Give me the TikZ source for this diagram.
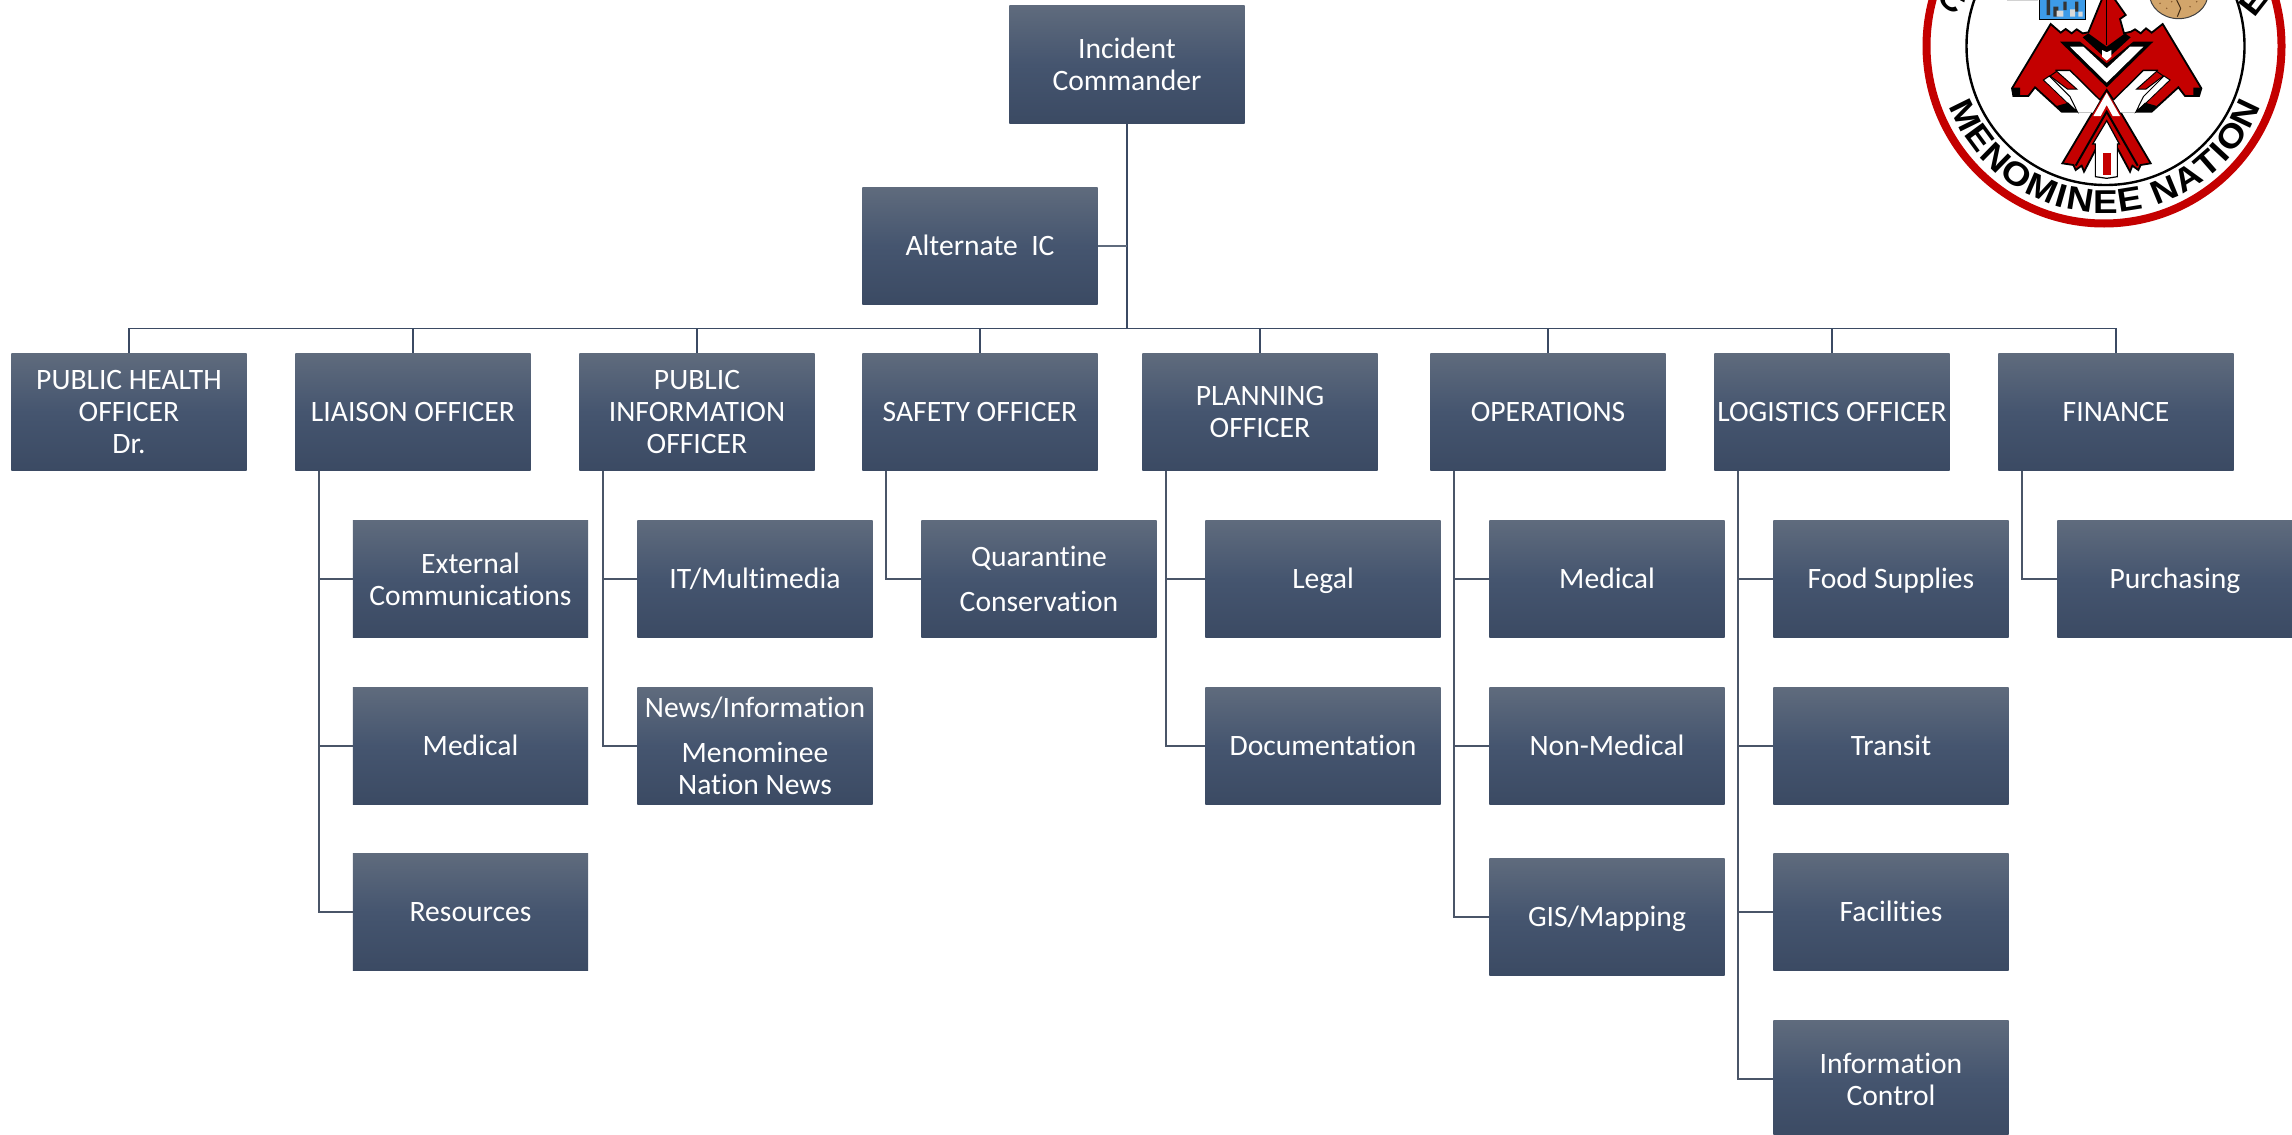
\documentclass[tikz,border=0pt]{standalone}
\usepackage{fontspec}
\setmainfont[Ligatures=NoCommon]{Carlito}
\newfontfamily\logofont[FakeStretch=1.12]{Liberation Sans}
\usetikzlibrary{decorations.text}
\definecolor{boxtop}{HTML}{5F6B7D}
\definecolor{boxmid}{HTML}{45556F}
\definecolor{boxbot}{HTML}{3B4A63}
\definecolor{linkc}{HTML}{4A5568}
\definecolor{logored}{HTML}{C40000}
\definecolor{nutc}{HTML}{D2A56B}
\definecolor{skyc}{HTML}{3D9BE8}
\tikzset{
 orgbox/.style={anchor=north west,minimum width=117.6pt,minimum height=58.7pt,inner sep=0pt,
   top color=boxtop,bottom color=boxbot,middle color=boxmid,text=white,align=center,
   font=\fontsize{14.8}{16}\selectfont},
 oneline/.style={orgbox,execute at begin node={\rule{0pt}{14.4pt}},execute at end node={\rule[-4.8pt]{0pt}{0pt}}},
 trunk/.style={draw=boxbot,line width=1pt},
 branch/.style={draw=linkc,line width=.7pt},
 redpart/.style={fill=logored,draw=black,line width=.9pt,line join=miter},
 whitepart/.style={fill=white,draw=black,line width=.6pt},
 gaplines/.style={black,line width=.7pt},
}
\begin{document}
\begin{tikzpicture}[x=.5pt,y=-.5pt]
\clip (0,0) rectangle (2292,1135);
\fill[white] (0,0) rectangle (2292,1135);
% logo rings
\draw[logored,line width=4pt] (2104,46) circle (177.5);
\draw[black,line width=1.2pt] (2105.5,46) circle (139);
\begin{scope}[shift={(1900,0)},x=.16667pt,y=-.16667pt]
 % blue picture
 \fill[gray!35] (320,-5) rectangle (415,2);
 \draw[black,line width=.8pt,fill=skyc] (419,-5) rectangle (557,59);
 \fill[black!80] (440,0) rectangle (450,45) (460,20) rectangle (475,50) (490,5) rectangle (500,30) (525,5) rectangle (535,35);
 \fill[white!85!black] (470,32) rectangle (490,50) (510,28) rectangle (525,50) (535,35) rectangle (548,50);
 % walnut
 \draw[fill=nutc,draw=black!75,line width=.5pt] (836,-20) ellipse (88 and 76);
 \draw[black!65!brown,line width=.5pt] (830,0) -- (842,25) -- (832,50);
 \fill[brown!70!black] (780,10) circle (2.5) (800,25) circle (2.5) (870,20) circle (2.5) (890,5) circle (2.5) (815,5) circle (2.5);
 % wings, head and body
 \path[redpart] (336,265) -- (452,72) -- (482,98) -- (497,87) -- (515,100) -- (530,88) -- (548,100) -- (565,97)
   -- (608,-8) -- (640,-8) -- (677,45) -- (660,57) -- (672,100) -- (693,95) -- (705,88) -- (722,100) -- (738,85)
   -- (755,98) -- (788,72) -- (904,265) -- (897,288) -- (855,288) -- (835,262) -- (755,335) -- (708,335)
   -- (640,335) -- (600,335) -- (532,335) -- (485,335) -- (405,262) -- (385,288) -- (340,288) -- cycle;
 % legs
 \path[redpart] (600,300) -- (487,490) -- (520,495) -- (527,510) -- (545,497) -- (552,515) -- (620,385)
   -- (690,515) -- (697,497) -- (715,510) -- (722,495) -- (752,490) -- (640,300) -- (620,270) -- cycle;
 \draw[black,line width=1pt] (527,497) -- (620,335) -- (713,497);
 % wing tips
 \fill[black] (336,263) -- (360,263) -- (360,288) -- (340,288) -- cycle;
 \fill[black] (904,263) -- (880,263) -- (880,288) -- (897,288) -- cycle;
 % neck line and chevrons
 \draw[black,line width=.7pt] (620,0) -- (620,135);
 \fill[black] (480,125) -- (540,125) -- (620,190) -- (700,125) -- (760,125) -- (620,262) -- cycle;
 \fill[white] (510,140) -- (550,140) -- (620,205) -- (690,140) -- (730,140) -- (620,248) -- cycle;
 \fill[black] (565,100) -- (620,140) -- (675,100) -- (692,112) -- (620,178) -- (548,112) -- cycle;
 \fill[white] (606,150) -- (620,157) -- (634,150) -- (634,170) -- (620,182) -- (606,170) -- cycle;
 % open gaps between feathers and legs
 \fill[white] (470,212) -- (510,212) -- (600,300) -- (578,338) -- (534,338) -- (470,270) -- (455,232) -- cycle;
 \fill[white] (1240-470,212) -- (1240-510,212) -- (1240-600,300) -- (1240-578,338) -- (1240-534,338) -- (1240-470,270) -- (1240-455,232) -- cycle;
 \draw[gaplines] (466,211) -- (510,211) -- (600,300);
 \draw[gaplines] (774,211) -- (730,211) -- (640,300);
 \path[redpart,line width=.5pt] (470,214) -- (530,267) -- (502,267) -- (450,228) -- cycle;
 \path[redpart,line width=.5pt] (770,214) -- (710,267) -- (738,267) -- (790,228) -- cycle;
 % feather slivers
 \path[whitepart,line width=.5pt] (430,240) -- (448,228) -- (510,290) -- (532,335) -- (505,312) -- cycle;
 \path[whitepart,line width=.5pt] (810,240) -- (792,228) -- (730,290) -- (708,335) -- (735,312) -- cycle;
 \path[fill=logored] (440,252) -- (500,310) -- (482,322) -- (420,262) -- cycle;
 \path[fill=logored] (800,252) -- (740,310) -- (758,322) -- (820,262) -- cycle;
 \fill[black] (470,318) -- (485,335) -- (532,335) -- (505,308) -- cycle;
 \fill[black] (770,318) -- (755,335) -- (708,335) -- (735,308) -- cycle;
 % center chevron
 \fill[white] (620,278) -- (660,348) -- (638,348) -- (620,315) -- (602,348) -- (580,348) -- cycle;
 % tail arrow
 \path[whitepart] (620,362) -- (658,432) -- (652,432) -- (652,530) -- (620,535) -- (586,530) -- (586,432) -- (578,432) -- cycle;
 \fill[logored] (608,458) rectangle (632,525);
 % clipped upper lettering
 \node[rotate=-40,font=\logofont\bfseries\fontsize{16}{16}\selectfont] (logoC) at (158,-2) {C};
 \node[rotate=52,font=\logofont\bfseries\fontsize{16}{16}\selectfont] (logoE) at (1058,6) {E};
\end{scope}
\begin{scope}[x=1pt,y=1pt]
 \path[decorate,decoration={text along path,text align={fit to path},
   text={|\logofont\bfseries\fontsize{16.5}{16.5}\selectfont|MENOMINEE NATION}}]
   (1052.5,-23) ++(201:83.5) arc[start angle=201,end angle=339,radius=83.5];
\end{scope}
% top
\node[orgbox] (ic) at (1009,5.5) {Incident\\Commander};
\node[oneline] (alt) at (862,187) {Alternate\ \ IC};
\coordinate (bus) at (1127,328.5);
% level 2
\node[orgbox] (ph) at (11,353) {PUBLIC HEALTH\\OFFICER\\Dr.};
\node[oneline] (lo) at (295,353) {LIAISON OFFICER};
\node[orgbox] (pi) at (579,353) {PUBLIC\\INFORMATION\\OFFICER};
\node[oneline] (so) at (862,353) {SAFETY OFFICER};
\node[orgbox] (pl) at (1142,353) {PLANNING\\OFFICER};
\node[oneline] (op) at (1430,353) {OPERATIONS};
\node[oneline] (lg) at (1714,353) {LOGISTICS OFFICER};
\node[oneline] (fi) at (1998,353) {FINANCE};
% children
\node[orgbox] (lo1) at (352.5,520) {External\\Communications};
\node[oneline] (lo2) at (352.5,687) {Medical};
\node[oneline] (lo3) at (352.5,853) {Resources};
\node[oneline] (pi1) at (637,520) {IT/Multimedia};
\node[orgbox] (pi2) at (637,687) {News/Information\\[6.5pt]Menominee\\Nation News};
\node[orgbox] (so1) at (921,520) {Quarantine\\[6.5pt]Conservation};
\node[oneline] (pl1) at (1205,520) {Legal};
\node[oneline] (pl2) at (1205,687) {Documentation};
\node[oneline] (op1) at (1489,520) {Medical};
\node[oneline] (op2) at (1489,687) {Non-Medical};
\node[oneline] (op3) at (1489,858) {GIS/Mapping};
\node[oneline] (lg1) at (1773,520) {Food Supplies};
\node[oneline] (lg2) at (1773,687) {Transit};
\node[oneline] (lg3) at (1773,853) {Facilities};
\node[orgbox] (lg4) at (1773,1020) {Information\\Control};
\node[oneline] (fi1) at (2057,520) {Purchasing};
% connectors
\draw[trunk] (ic.south) -- (ic.south |- bus);
\draw[branch,draw=boxtop] (alt.east) -- (alt.east -| ic.south);
\foreach \n in {ph,lo,pi,so,pl,op,lg,fi}{\draw[trunk,line width=.8pt] (ic.south |- bus) -| (\n.north);}
\foreach \p/\c in {lo/lo1,lo/lo2,lo/lo3,pi/pi1,pi/pi2,so/so1,pl/pl1,pl/pl2,op/op1,op/op2,op/op3,lg/lg1,lg/lg2,lg/lg3,lg/lg4,fi/fi1}{
  \draw[branch] ([xshift=12pt]\p.south west) |- (\c.west);}
\end{tikzpicture}
\end{document}
